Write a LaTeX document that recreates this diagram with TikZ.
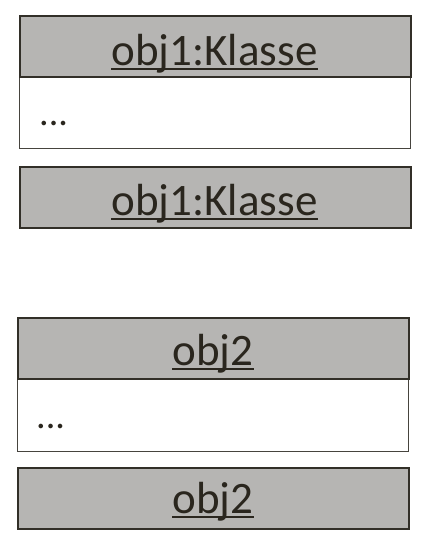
\documentclass[tikz,border=0pt]{standalone}
\usepackage{fontspec}
\setmainfont{Carlito}
\definecolor{hdrfill}{RGB}{182,181,179}
\definecolor{hdrline}{RGB}{50,47,40}
\definecolor{bodyline}{RGB}{70,68,62}
\definecolor{txt}{RGB}{42,38,30}
\begin{document}
\begin{tikzpicture}[x=1pt,y=-1pt,
  hdr/.style={draw=hdrline,line width=2pt,fill=hdrfill,minimum width=391pt,minimum height=61pt,inner sep=0pt,anchor=north west},
  bodybox/.style={draw=bodyline,line width=1.3pt,fill=white,minimum width=391pt,minimum height=72pt,inner sep=0pt,anchor=north west},
  title/.style={text=txt,inner sep=0pt,anchor=base,font=\fontsize{45}{50}\selectfont},
  dots/.style={text=txt,inner sep=0pt,anchor=base west,font=\fontsize{38}{40}\selectfont},
  uline/.style={draw=txt,line width=2.2pt}]
\useasboundingbox (0,0) rectangle (426,551);
% object 1 with body
\node[bodybox] (b1) at (19,76) {};
\node[hdr] (h1) at (19,15) {};
\node[title] (t1) at (214.5,65) {obj1:Klasse};
\draw[uline] ([yshift=-4pt]t1.base west) -- ([yshift=-4pt]t1.base east);
\node[dots] (d1) at (39,125) {...};
% object 1 header only
\node[hdr] (h2) at (19,166) {};
\node[title] (t2) at (214.5,215) {obj1:Klasse};
\draw[uline] ([yshift=-4pt]t2.base west) -- ([yshift=-4pt]t2.base east);
% object 2 with body
\node[bodybox] (b3) at (17,379) {};
\node[hdr] (h3) at (17,317) {};
\node[title] (t3) at (213,365) {obj2};
\draw[uline] ([yshift=-4pt]t3.base west) -- ([yshift=-4pt]t3.base east);
\node[dots] (d3) at (36,428) {...};
% object 2 header only
\node[hdr] (h4) at (17,467) {};
\node[title] (t4) at (213,513) {obj2};
\draw[uline] ([yshift=-4pt]t4.base west) -- ([yshift=-4pt]t4.base east);
\end{tikzpicture}
\end{document}
